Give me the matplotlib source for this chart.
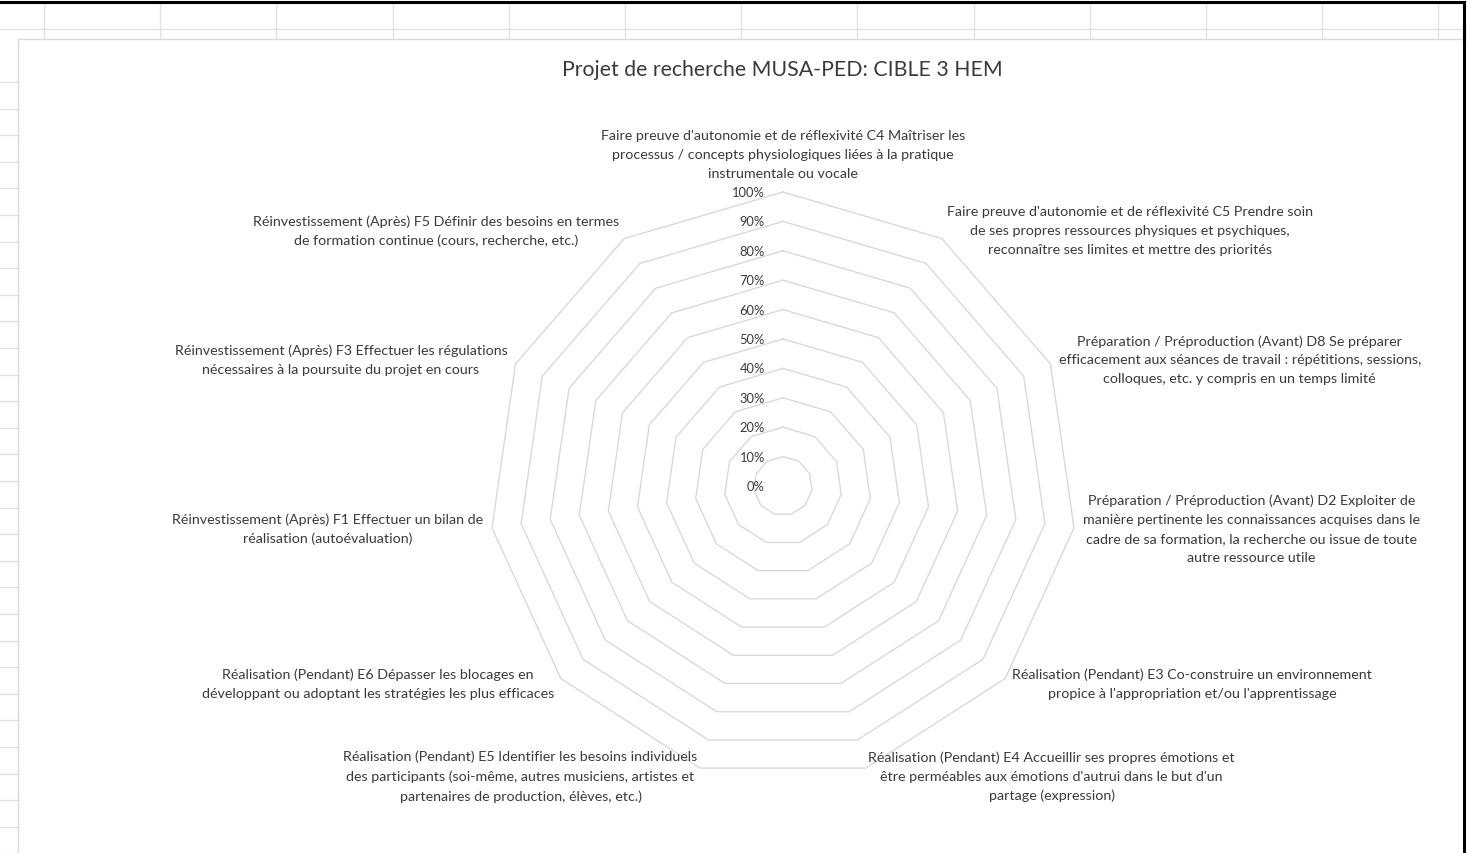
import numpy as np
import matplotlib.pyplot as plt
from matplotlib.patches import Rectangle

W, H = 1467, 854

# Axes du radar (sens horaire à partir du haut)
categories = [
    "Faire preuve d'autonomie et de réflexivité C4 Maîtriser les\nprocessus / concepts physiologiques liées à la pratique\ninstrumentale ou vocale",
    "Faire preuve d'autonomie et de réflexivité C5 Prendre soin\nde ses propres ressources physiques et psychiques,\nreconnaître ses limites et mettre des priorités",
    "Préparation / Préproduction (Avant) D8 Se préparer\nefficacement aux séances de travail : répétitions, sessions,\ncolloques, etc. y compris en un temps limité",
    "Préparation / Préproduction (Avant) D2 Exploiter de\nmanière pertinente les connaissances acquises dans le\ncadre de sa formation, la recherche ou issue de toute\nautre ressource utile",
    "Réalisation (Pendant) E3 Co-construire un environnement\npropice à l'appropriation et/ou l'apprentissage",
    "Réalisation (Pendant) E4 Accueillir ses propres émotions et\nêtre perméables aux émotions d'autrui dans le but d'un\npartage (expression)",
    "Réalisation (Pendant) E5 Identifier les besoins individuels\ndes participants (soi-même, autres musiciens, artistes et\npartenaires de production, élèves, etc.)",
    "Réalisation (Pendant) E6 Dépasser les blocages en\ndéveloppant ou adoptant les stratégies les plus efficaces",
    "Réinvestissement (Après) F1 Effectuer un bilan de\nréalisation (autoévaluation)",
    "Réinvestissement (Après) F3 Effectuer les régulations\nnécessaires à la poursuite du projet en cours",
    "Réinvestissement (Après) F5 Définir des besoins en termes\nde formation continue (cours, recherche, etc.)",
]
levels = [0.0, 0.1, 0.2, 0.3, 0.4, 0.5, 0.6, 0.7, 0.8, 0.9, 1.0]
level_labels = ['0%', '10%', '20%', '30%', '40%', '50%', '60%', '70%', '80%', '90%', '100%']
title = "Projet de recherche MUSA-PED: CIBLE 3 HEM"

plt.rcParams['font.family'] = ['Lato', 'DejaVu Sans']
txt_col = '#3a3a3a'
grid_col = '#D9D9D9'

fig = plt.figure(figsize=(W / 100, H / 100), dpi=100)
fig.patch.set_facecolor('white')

# fond type tableur
bg = fig.add_axes([0, 0, 1, 1])
bg.set_xlim(0, W)
bg.set_ylim(H, 0)
bg.axis('off')
for x in 44 + 116.2 * np.arange(13):
    bg.plot([x, x], [4, H], color='#E1E1E1', lw=1)
bg.plot([0, W], [30, 30], color='#E1E1E1', lw=1)
for y in 83 + 26.6 * np.arange(30):
    bg.plot([0, W], [y, y], color='#E1E1E1', lw=1)
bg.add_patch(Rectangle((18, 40), W, H, facecolor='white', edgecolor=grid_col, lw=1, zorder=3))
bg.plot([0, 1464], [3, 3], color='black', lw=2.2, zorder=5)
bg.plot([1464, 1464], [3, H], color='black', lw=2.2, zorder=5)

fig.text(782 / W, 1 - 70 / H, title, ha='center', va='center', fontsize=15.3, color=txt_col)

# radar
cx, cy, R = 783, 487, 294
ax = fig.add_axes([(cx - R) / W, (H - cy - R) / H, 2 * R / W, 2 * R / H], projection='polar')
ax.set_facecolor('none')
ax.set_theta_zero_location('N')
ax.set_theta_direction(-1)
ax.set_ylim(0, 1)
ax.grid(False)
ax.set_xticks([])
ax.set_yticks([])
ax.spines['polar'].set_visible(False)

n = len(categories)
angles = np.linspace(0, 2 * np.pi, n, endpoint=False)
closed = np.append(angles, angles[0])
for v in levels[1:]:
    ax.plot(closed, [v] * (n + 1), color=grid_col, lw=1.0, clip_on=False)

for v, lab in zip(levels, level_labels):
    ax.annotate(lab, (0, v), xytext=(-18, 0), textcoords='offset pixels',
                ha='right', va='center', fontsize=9.3, color=txt_col)

for k, (th, lab) in enumerate(zip(angles, categories)):
    s, c = np.sin(th), np.cos(th)
    if k == 0:
        ax.annotate(lab, (th, 1.0), xytext=(0, 13), textcoords='offset pixels',
                    ha='center', va='bottom', ma='center', fontsize=10.3,
                    color=txt_col, linespacing=1.68, annotation_clip=False)
    else:
        ax.annotate(lab, (th, 1.0), xytext=(9 * s, 9 * c + 1), textcoords='offset pixels',
                    ha='left' if s > 0 else 'right', va='center', ma='center', fontsize=10.3,
                    color=txt_col, linespacing=1.68, annotation_clip=False)

fig.savefig('out.png', dpi=100)
